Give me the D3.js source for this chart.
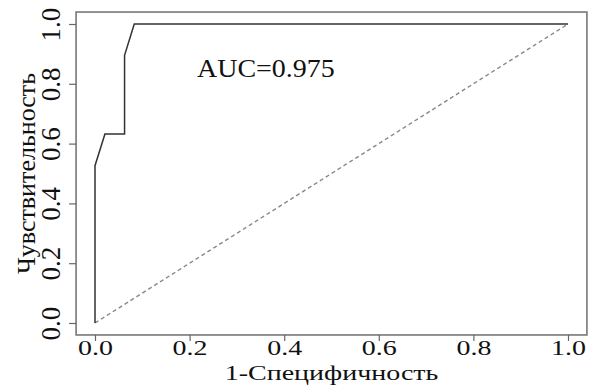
<!DOCTYPE html>
<html><head><meta charset="utf-8">
<script src="https://cdn.jsdelivr.net/npm/d3@7/dist/d3.min.js"></script>
<style>body{margin:0;background:#fff}svg{display:block}text{font-family:"Liberation Serif","Times New Roman",Times,serif !important;fill:#111}</style>
</head><body><svg id="c" width="595" height="387"></svg>
<script>
const rocFPR = [0, 0, 0.021, 0.0625, 0.0625, 0.083, 1];
const rocTPR = [0, 0.526, 0.632, 0.632, 0.895, 1, 1];
const refLine = [0, 1];
const xTicks = [0, 0.2, 0.4, 0.6, 0.8, 1.0];
const yTicks = [0, 0.2, 0.4, 0.6, 0.8, 1.0];
const aucLabel = "AUC=0.975";
const xTitle = "1-Специфичность";
const yTitle = "Чувствительность";

const svg = d3.select("#c");
const x = d3.scaleLinear().domain([0,1]).range([95,568]);
const y = d3.scaleLinear().domain([0,1]).range([323,24]);
const pad = 0.04;
const bx0 = x(-pad), bx1 = x(1+pad), by0 = y(-pad), by1 = y(1+pad);

svg.append("rect").attr("x",bx0).attr("y",by1).attr("width",bx1-bx0).attr("height",by0-by1)
  .attr("fill","none").attr("stroke","#777").attr("stroke-width",1.6);

svg.append("line").attr("x1",x(refLine[0])).attr("y1",y(refLine[0])).attr("x2",x(refLine[1])).attr("y2",y(refLine[1]))
  .attr("stroke","#888").attr("stroke-width",1.4).attr("stroke-dasharray","4,3");

const pts = rocFPR.map((f,i)=>[f,rocTPR[i]]);
svg.append("path").attr("d", d3.line().x(d=>x(d[0])).y(d=>y(d[1]))(pts))
  .attr("fill","none").attr("stroke","#333").attr("stroke-width",1.5);

const xa = svg.append("g").attr("transform",`translate(0,${by0})`)
  .call(d3.axisBottom(x).tickValues(xTicks).tickSize(6).tickFormat(d3.format(".1f")));
xa.select(".domain").remove();
xa.selectAll(".tick line").attr("stroke","#666").attr("stroke-width",1.2);
xa.selectAll(".tick text").attr("font-size",28).attr("fill","#111")
  .attr("y",0).attr("dy",0).attr("transform","translate(0,20.5) scale(1,0.78)");

const ya = svg.append("g").attr("transform",`translate(${bx0},0)`)
  .call(d3.axisLeft(y).tickValues(yTicks).tickSize(7).tickFormat(d3.format(".1f")));
ya.select(".domain").remove();
ya.selectAll(".tick line").attr("stroke","#666").attr("stroke-width",1.2);
ya.selectAll(".tick text").attr("font-size",27).attr("fill","#111")
  .attr("x",0).attr("dy",0).attr("text-anchor","middle").attr("transform","translate(-16,0) rotate(-90)");

svg.append("text").attr("transform",`translate(197,77) scale(1,0.9)`).attr("font-size",28).text(aucLabel);

svg.append("text").attr("transform",`translate(${(bx0+bx1)/2},379.5) scale(1,0.76)`).attr("text-anchor","middle")
  .attr("font-size",28).text(xTitle);
svg.append("text").attr("transform",`translate(35,${(by0+by1)/2}) rotate(-90)`).attr("text-anchor","middle")
  .attr("font-size",26).text(yTitle);
</script></body></html>
